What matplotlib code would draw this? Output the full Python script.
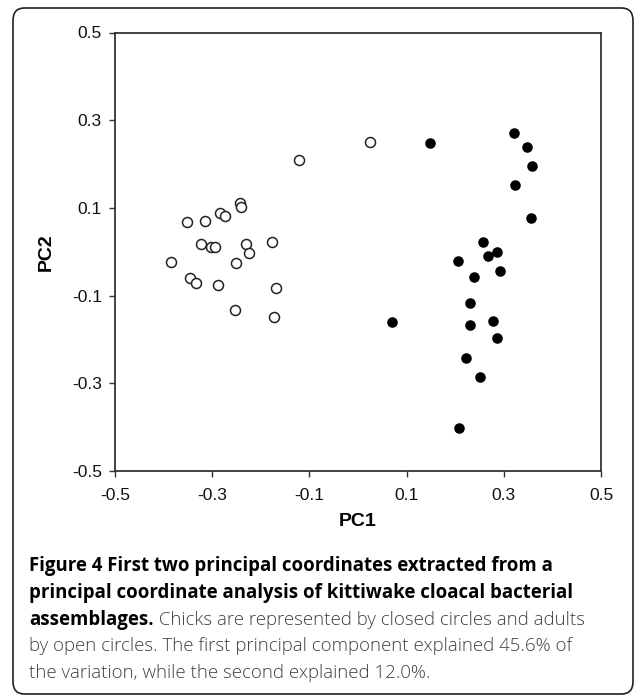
import matplotlib
matplotlib.use("Agg")
import matplotlib.pyplot as plt
from matplotlib.patches import FancyBboxPatch

# adults (open circles)
adult_pc1 = [-0.121, 0.025, -0.242, -0.241, -0.283, -0.274, -0.351, -0.314, -0.323, -0.303, -0.294,
             -0.231, -0.224, -0.176, -0.385, -0.251, -0.346, -0.333, -0.288, -0.169, -0.254, -0.173]
adult_pc2 = [0.209, 0.251, 0.112, 0.101, 0.088, 0.082, 0.067, 0.070, 0.018, 0.010, 0.011,
             0.017, -0.003, 0.022, -0.024, -0.025, -0.061, -0.071, -0.076, -0.083, -0.133, -0.148]

# chicks (closed circles)
chick_pc1 = [0.148, 0.320, 0.348, 0.358, 0.323, 0.356, 0.258, 0.287, 0.267, 0.205,
             0.293, 0.239, 0.231, 0.277, 0.230, 0.286, 0.223, 0.252, 0.207, 0.070]
chick_pc2 = [0.249, 0.270, 0.239, 0.196, 0.152, 0.077, 0.023, -0.001, -0.010, -0.020,
             -0.043, -0.057, -0.118, -0.157, -0.167, -0.197, -0.242, -0.286, -0.401, -0.160]

ticks = [-0.5, -0.3, -0.1, 0.1, 0.3, 0.5]
tick_labels = ["-0.5", "-0.3", "-0.1", "0.1", "0.3", "0.5"]

caption_bold_1 = "Figure 4 First two principal coordinates extracted from a"
caption_bold_2 = "principal coordinate analysis of kittiwake cloacal bacterial"
caption_bold_3 = "assemblages."
caption_rest_3 = " Chicks are represented by closed circles and adults"
caption_rest_4 = "by open circles. The first principal component explained 45.6% of"
caption_rest_5 = "the variation, while the second explained 12.0%."

W, H = 637, 696
fig = plt.figure(figsize=(W / 100, H / 100), dpi=100)

# rounded frame around figure + caption
frame = FancyBboxPatch((13 / W, 2 / H), 620 / W, 686 / H,
                       boxstyle="round,pad=0,rounding_size=0.018",
                       transform=fig.transFigure, fill=False, edgecolor="#222222", linewidth=1.2)
fig.patches.append(frame)

ax = fig.add_axes([115 / W, (H - 471) / H, 486 / W, 438.5 / H])
ax.plot(chick_pc1, chick_pc2, "o", color="black", markersize=7.6, markeredgewidth=0)
ax.plot(adult_pc1, adult_pc2, "o", markerfacecolor="white", markeredgecolor="#222222",
        markersize=7.2, markeredgewidth=1.1)

ax.set_xlim(-0.5, 0.5)
ax.set_ylim(-0.5, 0.5)
ax.set_xticks(ticks)
ax.set_xticklabels(tick_labels)
ax.set_yticks(ticks)
ax.set_yticklabels(tick_labels)
for s in ax.spines.values():
    s.set_linewidth(1.3)
    s.set_color("#333333")
ax.tick_params(direction="out", length=4.5, width=1.0, color="#333333",
               labelsize=12.5, labelcolor="#111111")
ax.tick_params(axis="x", pad=8)
ax.tick_params(axis="y", pad=5)
for lab in ax.get_xticklabels() + ax.get_yticklabels():
    lab.set_fontfamily("Liberation Sans")

ax.set_xlabel("PC1", fontsize=14, fontweight="bold", family="Liberation Sans", labelpad=7)
ax.set_ylabel("PC2", fontsize=14, fontweight="bold", family="Liberation Sans", labelpad=12)

# caption
cap_x = 29 / W
line_y = [566, 593, 620, 646, 673]
cfont = dict(family="Open Sans", fontsize=13.4, va="center", ha="left")
fig.text(cap_x, 1 - line_y[0] / H, caption_bold_1, fontweight="bold", color="black", **cfont)
fig.text(cap_x, 1 - line_y[1] / H, caption_bold_2, fontweight="bold", color="black", **cfont)
t = fig.text(cap_x, 1 - line_y[2] / H, caption_bold_3, fontweight="bold", color="black", **cfont)
r = fig.canvas.get_renderer()
bb = t.get_window_extent(renderer=r)
fig.text(bb.x1 / W, 1 - line_y[2] / H, caption_rest_3, color="#404040", fontweight="light", **cfont)
fig.text(cap_x, 1 - line_y[3] / H, caption_rest_4, color="#404040", fontweight="light", **cfont)
fig.text(cap_x, 1 - line_y[4] / H, caption_rest_5, color="#404040", fontweight="light", **cfont)

fig.savefig("out.png", dpi=100)
